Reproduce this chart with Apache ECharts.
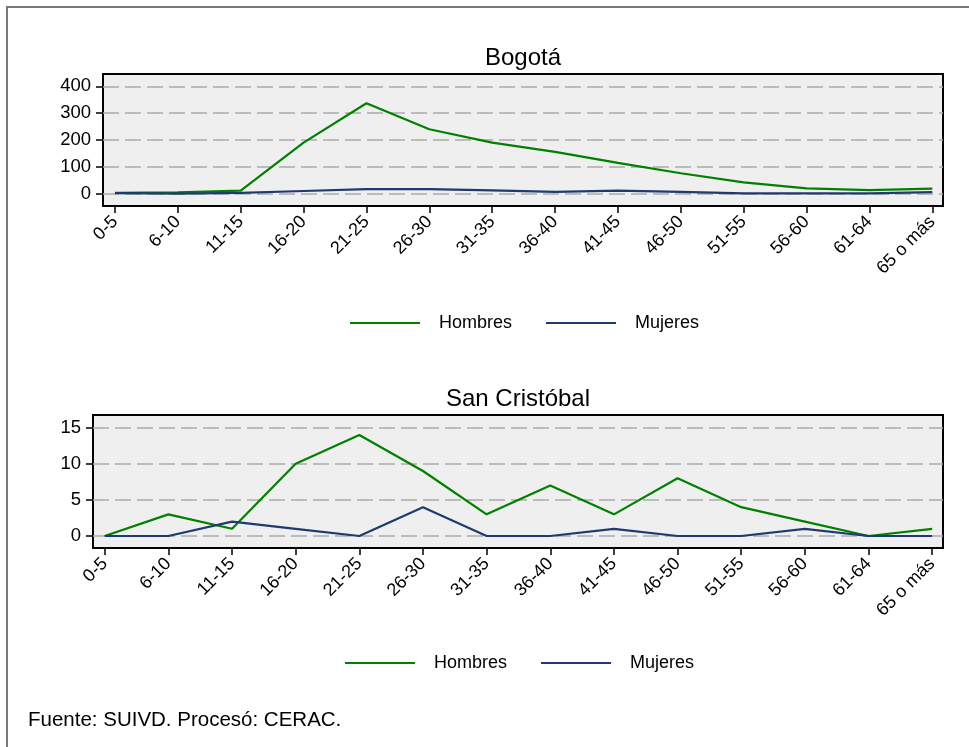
<!DOCTYPE html>
<html>
<head>
<meta charset="utf-8">
<script src="https://cdn.jsdelivr.net/npm/echarts@6/dist/echarts.min.js"></script>
<style>
html,body{margin:0;padding:0;background:#fff;}
#chart{width:969px;height:747px;}
</style>
</head>
<body>
<div id="chart"></div>
<script>
const categories = ['0-5','6-10','11-15','16-20','21-25','26-30','31-35','36-40','41-45','46-50','51-55','56-60','61-64','65 o más'];
const bogotaHombres = [3,5,11,190,337,240,190,156,115,76,42,20,13,19];
const bogotaMujeres = [2,0,3,10,17,17,12,7,11,7,1,1,1,6];
const scHombres = [0,3,1,10,14,9,3,7,3,8,4,2,0,1];
const scMujeres = [0,0,2,1,0,4,0,0,1,0,0,1,0,0];
const bogotaTicks = [0,100,200,300,400];
const scTicks = [0,5,10,15];

const FONT = '"Liberation Sans", Arial, sans-serif';
const GREEN = '#008000';
const NAVY = '#1f3a6f';
const idx = categories.map((c,i)=>i);
const toPts = arr => arr.map((v,i)=>[i,v]);

function xAxisDef(gi, min, max){
  return {
    type:'value', gridIndex:gi, min:min, max:max, position:'bottom',
    axisLine:{show:false, onZero:false},
    splitLine:{show:false},
    axisTick:{show:true, inside:false, customValues:idx, length:7, lineStyle:{color:'#000', width:1.5}},
    axisLabel:{customValues:idx, formatter:v=>categories[Math.round(v)], rotate:45, margin:13,
      color:'#000', fontSize:18, fontFamily:FONT}
  };
}
function yAxisDef(gi, min, max, ticks){
  return {
    type:'value', gridIndex:gi, min:min, max:max, position:'left',
    axisLine:{show:false, onZero:false},
    axisTick:{show:true, inside:false, customValues:ticks, length:7, lineStyle:{color:'#000', width:1.5}},
    axisLabel:{customValues:ticks, margin:12, color:'#000', fontSize:18.5, fontFamily:FONT},
    splitLine:{show:true, customValues:ticks, lineStyle:{color:'#aaaaaa', width:1.5, type:[16,6]}}
  };
}
function lineSeries(name, data, color, gi){
  return {
    type:'line', name:name, xAxisIndex:gi, yAxisIndex:gi, data:toPts(data),
    symbol:'none', lineStyle:{color:color, width:2.2}, itemStyle:{color:color},
    animation:false, z:3
  };
}
function legendDef(left, top){
  return {
    left:left, top:top, icon:'rect', itemWidth:70, itemHeight:2, itemGap:34,
    data:['Hombres','Mujeres'],
    textStyle:{color:'#000', fontSize:18, fontFamily:FONT, padding:[0,0,0,14]},
    selectedMode:false
  };
}

const chart = echarts.init(document.getElementById('chart'), null, {renderer:'canvas'});
chart.setOption({
  animation:false,
  backgroundColor:'#fff',
  grid:[
    {left:103, right:26, top:74, height:132, show:true, backgroundColor:'#efefef', borderColor:'#000', borderWidth:2},
    {left:93, right:26, top:415, height:133, show:true, backgroundColor:'#efefef', borderColor:'#000', borderWidth:2}
  ],
  xAxis:[ xAxisDef(0,-0.19,13.17), xAxisDef(1,-0.184,13.17) ],
  yAxis:[ yAxisDef(0,-46,446,bogotaTicks), yAxisDef(1,-1.66,16.76,scTicks) ],
  legend:[ legendDef(345, 309), legendDef(340, 649) ],
  series:[
    lineSeries('Hombres', bogotaHombres, GREEN, 0),
    lineSeries('Mujeres', bogotaMujeres, NAVY, 0),
    lineSeries('Hombres', scHombres, GREEN, 1),
    lineSeries('Mujeres', scMujeres, NAVY, 1)
  ],
  graphic:[
    {type:'rect', shape:{x:7, y:7, width:1000, height:800}, style:{fill:'none', stroke:'#7a7a7a', lineWidth:2}, silent:true, z:-10},
    {type:'text', x:523, y:58, style:{text:'Bogotá', fill:'#000', fontSize:24, fontFamily:FONT, align:'center', verticalAlign:'middle'}},
    {type:'text', x:518, y:399, style:{text:'San Cristóbal', fill:'#000', fontSize:24, fontFamily:FONT, align:'center', verticalAlign:'middle'}},
    {type:'text', x:28, y:720, style:{text:'Fuente: SUIVD. Procesó: CERAC.', fill:'#000', fontSize:20.5, fontFamily:FONT, align:'left', verticalAlign:'middle'}}
  ]
});
</script>
</body>
</html>
